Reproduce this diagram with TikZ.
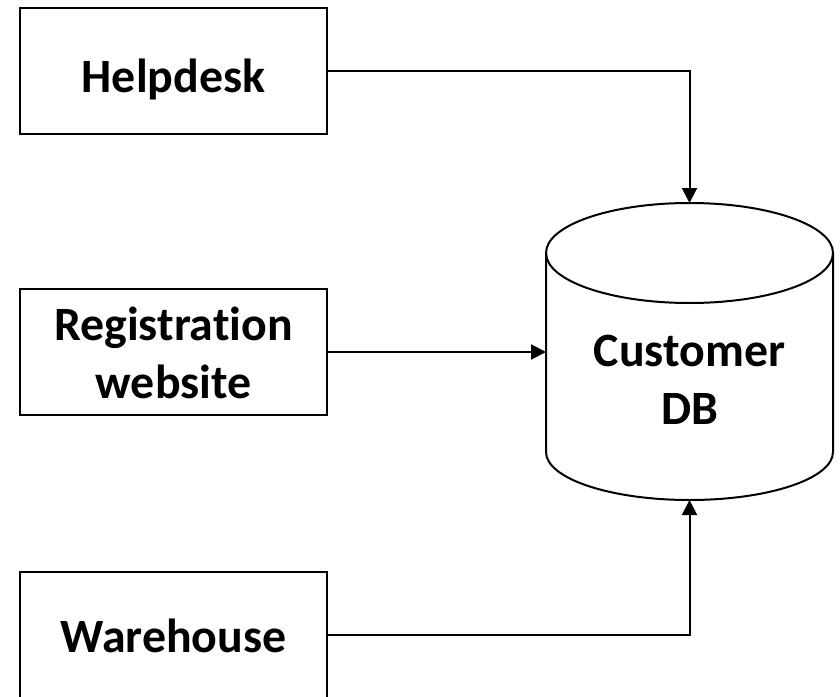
\documentclass[tikz,border=0pt]{standalone}
\usepackage{fontspec}
\setmainfont{Carlito}[Ligatures=NoCommon]
\usetikzlibrary{arrows.meta}
\begin{document}
\begin{tikzpicture}[x=1bp,y=-1bp,
  box/.style={draw=black, line width=2bp, minimum width=307bp, minimum height=126bp, inner sep=0pt},
  lbl/.style={font=\fontsize{48}{58}\selectfont\bfseries, align=center, inner sep=0pt},
  conn/.style={line width=2bp, -{Triangle[length=15bp,width=15bp]}},
  dbline/.style={line width=2bp}]
\path[use as bounding box, fill=white] (0,0) rectangle (840,697);
% source boxes
\node[box] (help) at (173.5,71) {};
\node[box] (reg) at (173.5,352) {};
\node[box] (ware) at (173.5,634.5) {};
\node[lbl] (helpt) at (173.5,79) {Helpdesk};
\node[lbl] (regt) at (173.5,353) {Registration\\website};
\node[lbl] (waret) at (173.5,635.5) {Warehouse};
% database cylinder
\draw[dbline] (689.5,253) ellipse [x radius=143.5, y radius=50];
\draw[dbline] (546,253) -- (546,452) arc[start angle=180, end angle=0, x radius=143.5, y radius=48] -- (833,253);
\coordinate (dbtop) at (689.5,203);
\coordinate (dbbot) at (689.5,500);
\coordinate (dbleft) at (546,352);
\node[lbl] (db) at (689.5,380) {Customer\\DB};
% connectors
\draw[conn] (help.east) -| (dbtop);
\draw[conn] (reg.east) -- (dbleft);
\draw[conn] (ware.east) -| (dbbot);
\end{tikzpicture}
\end{document}
